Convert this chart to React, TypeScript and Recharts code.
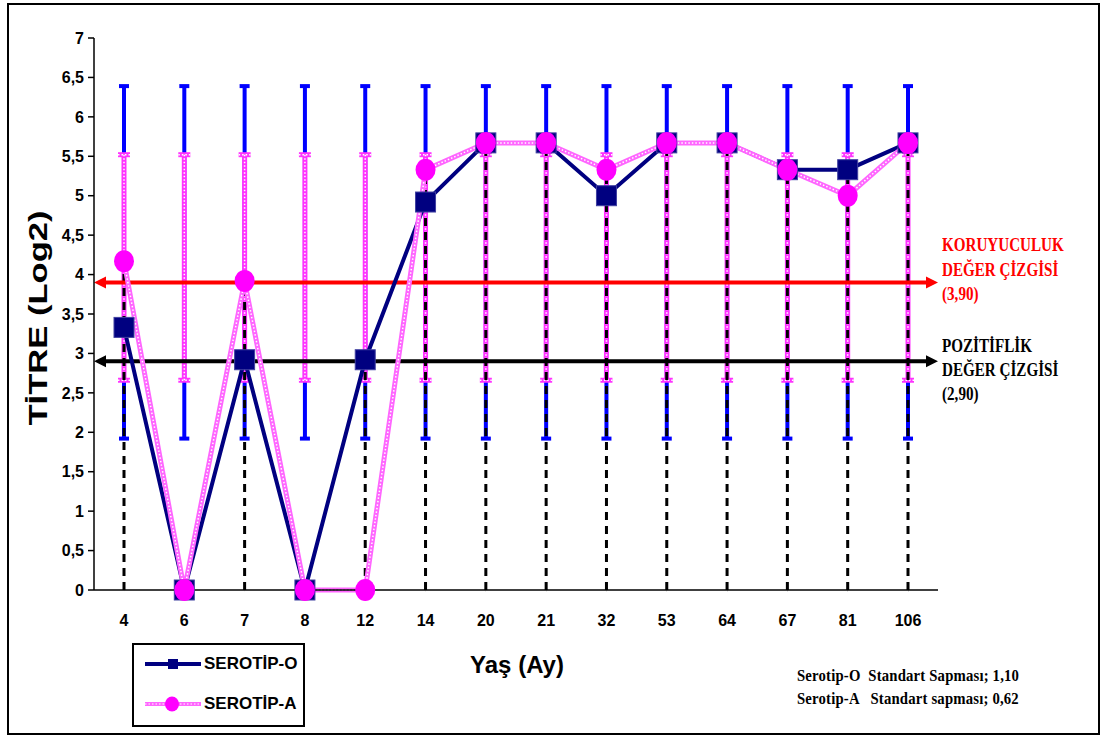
import React from 'react';
import { ComposedChart, Line, XAxis, YAxis, ReferenceLine, ErrorBar } from 'recharts';

// Yaş (ay) kategorileri ve iki serotipin ortalama titreleri (Log2)
const ages = ['4', '6', '7', '8', '12', '14', '20', '21', '32', '53', '64', '67', '81', '106'];
const serotipO = [3.33, 0, 2.92, 0, 2.92, 4.92, 5.67, 5.67, 5.0, 5.67, 5.67, 5.33, 5.33, 5.67];
const serotipA = [4.17, 0, 3.92, 0, 0, 5.33, 5.67, 5.67, 5.33, 5.67, 5.67, 5.33, 5.0, 5.67];

// hata çubuklarının alt / üst sınırları
const rangeO = [1.92, 6.39];
const rangeA = [2.66, 5.52];

const yTicks = [0, 0.5, 1, 1.5, 2, 2.5, 3, 3.5, 4, 4.5, 5, 5.5, 6, 6.5, 7];

const koruyuculuk = 3.9;
const pozitiflik = 2.9;

const NAVY = '#000080';
const PINK = '#ff00ff';
const ARIAL = 'Arial, "Liberation Sans", sans-serif';
const TIMES = '"Times New Roman", "Liberation Serif", serif';

const oMid = (rangeO[0] + rangeO[1]) / 2;
const aMid = (rangeA[0] + rangeA[1]) / 2;

const data = ages.map((age, i) => {
  const top = Math.max(serotipO[i], serotipA[i]);
  return {
    age,
    o: serotipO[i],
    a: serotipA[i],
    // düşey kesikli çizgi: 0 ile en yüksek nokta arası
    dropMid: top / 2,
    dropErr: top / 2,
    oMid,
    oErr: (rangeO[1] - rangeO[0]) / 2,
    aMid,
    aErr: (rangeA[1] - rangeA[0]) / 2,
  };
});

// iki ucu oklu yatay çizgi
const arrowLine = (color: string) => (props: any) => {
  const { x1, y1, x2, y2 } = props;
  const len = 12;
  const half = 6;
  return (
    <g>
      <line x1={x1 + len} y1={y1} x2={x2 - len} y2={y2} stroke={color} strokeWidth={4} />
      <polygon points={`${x1},${y1} ${x1 + len},${y1 - half} ${x1 + len},${y1 + half}`} fill={color} />
      <polygon points={`${x2},${y2} ${x2 - len},${y2 - half} ${x2 - len},${y2 + half}`} fill={color} />
    </g>
  );
};

const SquareDot = (props: any) => {
  const { cx, cy } = props;
  if (cx == null || cy == null) return <g />;
  return <rect x={cx - 10} y={cy - 10} width={20} height={20} fill={NAVY} stroke="#4040a0" strokeWidth={1} />;
};

const CircleDot = (props: any) => {
  const { cx, cy } = props;
  if (cx == null || cy == null) return <g />;
  return <ellipse cx={cx} cy={cy} rx={10} ry={11} fill={PINK} />;
};

const tickStyle = { fill: '#000', fontSize: 16, fontWeight: 700, fontFamily: ARIAL };

export default function App() {
  return (
    <div
      style={{
        position: 'absolute',
        left: 7,
        top: 3,
        width: 1093,
        height: 732,
        border: '2px solid #000',
        boxSizing: 'border-box',
        background: '#fff',
      }}
    >
      <ComposedChart width={1089} height={728} data={data} margin={{ top: 33, right: 160, bottom: 0, left: 0 }}>
        <XAxis
          dataKey="age"
          height={143}
          padding={{ left: 30, right: 30 }}
          tickLine={false}
          tickMargin={19}
          axisLine={{ stroke: '#000', strokeWidth: 1.5 }}
          tick={tickStyle}
          interval={0}
        />
        <YAxis
          width={85}
          domain={[0, 7]}
          ticks={yTicks}
          interval={0}
          tickSize={6}
          tickMargin={4}
          axisLine={{ stroke: '#000', strokeWidth: 1.5 }}
          tickLine={{ stroke: '#000', strokeWidth: 1.5 }}
          tick={tickStyle}
          tickFormatter={(v: number) => String(v).replace('.', ',')}
        />

        {/* hata çubukları */}
        <Line dataKey="oMid" stroke="none" dot={false} activeDot={false} isAnimationActive={false} legendType="none">
          <ErrorBar dataKey="oErr" width={5} stroke="#0000ff" strokeWidth={4} direction="y" isAnimationActive={false} />
        </Line>
        <Line dataKey="aMid" stroke="none" dot={false} activeDot={false} isAnimationActive={false} legendType="none">
          <ErrorBar dataKey="aErr" width={6} stroke="#ff33ff" strokeWidth={5} direction="y" isAnimationActive={false} />
          <ErrorBar
            dataKey="aErr"
            width={6}
            stroke="#ffffff"
            strokeWidth={1.5}
            strokeDasharray="1.5 2"
            direction="y"
            isAnimationActive={false}
          />
        </Line>

        {/* noktalardan eksene inen kesikli çizgiler */}
        <Line dataKey="dropMid" stroke="none" dot={false} activeDot={false} isAnimationActive={false} legendType="none">
          <ErrorBar
            dataKey="dropErr"
            width={0}
            stroke="#000"
            strokeWidth={3}
            strokeDasharray="8 6"
            direction="y"
            isAnimationActive={false}
          />
        </Line>

        <ReferenceLine y={koruyuculuk} shape={arrowLine('#ff0000')} />
        <ReferenceLine y={pozitiflik} shape={arrowLine('#000000')} />

        <Line
          dataKey="o"
          stroke={NAVY}
          strokeWidth={4}
          dot={SquareDot}
          activeDot={false}
          isAnimationActive={false}
        />
        <Line dataKey="a" stroke="#ff66ff" strokeWidth={5} dot={false} activeDot={false} isAnimationActive={false} />
        <Line
          dataKey="a"
          stroke="#ffffff"
          strokeWidth={1.5}
          strokeDasharray="1.5 2"
          dot={CircleDot}
          activeDot={false}
          isAnimationActive={false}
        />
      </ComposedChart>

      {/* eksen başlıkları */}
      <div
        style={{
          position: 'absolute',
          left: 29,
          top: 313,
          transform: 'translate(-50%, -50%) rotate(-90deg) scaleX(1.33)',
          whiteSpace: 'nowrap',
          fontFamily: ARIAL,
          fontWeight: 700,
          fontSize: 26,
          color: '#000',
        }}
      >
        TİTRE (Log2)
      </div>
      <div
        style={{
          position: 'absolute',
          left: 508,
          top: 660,
          transform: 'translate(-50%, -50%)',
          whiteSpace: 'nowrap',
          fontFamily: ARIAL,
          fontWeight: 700,
          fontSize: 24,
          color: '#000',
        }}
      >
        Yaş (Ay)
      </div>

      {/* sağdaki çizgi açıklamaları */}
      <div
        style={{
          position: 'absolute',
          left: 933,
          top: 228,
          color: '#ff0000',
          fontFamily: TIMES,
          fontWeight: 700,
          fontSize: 18,
          lineHeight: '24.5px',
          whiteSpace: 'nowrap',
          transform: 'scaleX(0.84)',
          transformOrigin: 'left top',
        }}
      >
        <div>KORUYUCULUK</div>
        <div>DEĞER ÇİZGİSİ</div>
        <div>(3,90)</div>
      </div>
      <div
        style={{
          position: 'absolute',
          left: 933,
          top: 329,
          color: '#000',
          fontFamily: TIMES,
          fontWeight: 700,
          fontSize: 18,
          lineHeight: '24px',
          whiteSpace: 'nowrap',
          transform: 'scaleX(0.84)',
          transformOrigin: 'left top',
        }}
      >
        <div>POZİTİFLİK</div>
        <div>DEĞER ÇİZGİSİ</div>
        <div>(2,90)</div>
      </div>

      {/* lejant */}
      <div
        style={{
          position: 'absolute',
          left: 123,
          top: 638,
          width: 173,
          height: 84,
          border: '2px solid #000',
          boxSizing: 'border-box',
          background: '#fff',
          fontFamily: ARIAL,
          fontWeight: 700,
          fontSize: 17,
          color: '#000',
        }}
      >
        <div style={{ position: 'absolute', left: 11, top: 9, display: 'flex', alignItems: 'center' }}>
          <svg width={56} height={16}>
            <line x1={0} y1={8} x2={56} y2={8} stroke={NAVY} strokeWidth={4} />
            <rect x={23} y={3} width={10} height={10} fill={NAVY} />
          </svg>
          <span style={{ marginLeft: 3 }}>SEROTİP-O</span>
        </div>
        <div style={{ position: 'absolute', left: 11, top: 49, display: 'flex', alignItems: 'center' }}>
          <svg width={56} height={16}>
            <line x1={0} y1={8} x2={56} y2={8} stroke="#ff66ff" strokeWidth={4} />
            <line x1={0} y1={8} x2={56} y2={8} stroke="#fff" strokeWidth={1.2} strokeDasharray="1.5 2" />
            <ellipse cx={27} cy={8} rx={7} ry={7.5} fill={PINK} />
          </svg>
          <span style={{ marginLeft: 3 }}>SEROTİP-A</span>
        </div>
      </div>

      {/* standart sapma notu */}
      <div
        style={{
          position: 'absolute',
          left: 788,
          top: 659,
          color: '#000',
          fontFamily: TIMES,
          fontWeight: 700,
          fontSize: 16,
          lineHeight: '23px',
          whiteSpace: 'pre',
          letterSpacing: 0.2,
          transform: 'scaleX(0.92)',
          transformOrigin: 'left top',
        }}
      >
        <div>Serotip-O  Standart Sapması; 1,10</div>
        <div>Serotip-A   Standart sapması; 0,62</div>
      </div>
    </div>
  );
}
